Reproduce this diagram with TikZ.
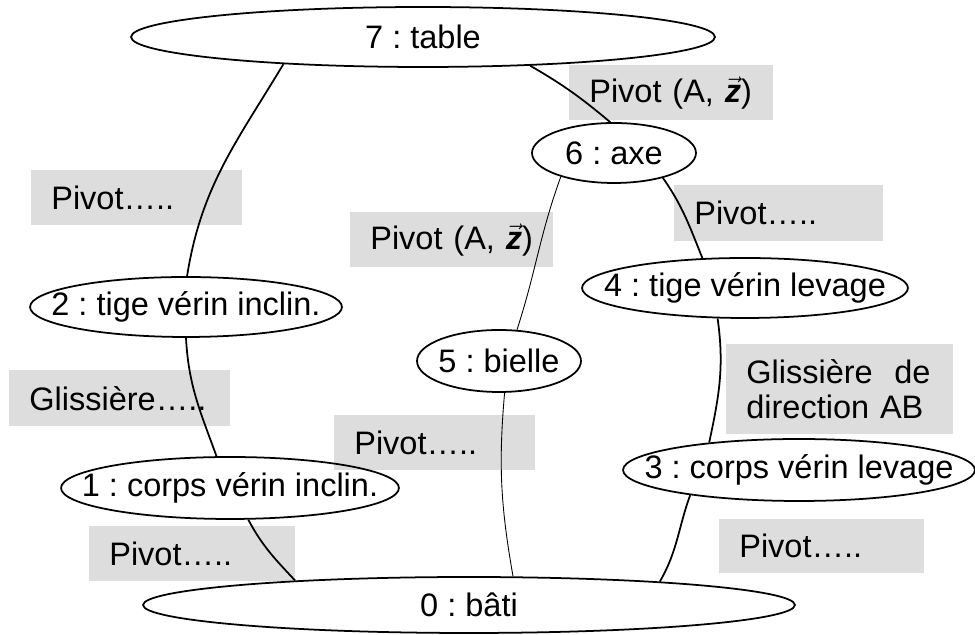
\documentclass[tikz,border=0pt]{standalone}
\usepackage{fontspec}
\setmainfont{Liberation Sans}
\usetikzlibrary{shapes.geometric}
\definecolor{fondliaison}{RGB}{221,221,221}
\newcommand{\vz}{$\vec{\mbox{\bfseries\itshape z}}$}
\frenchspacing

\begin{document}
\begin{tikzpicture}[x=0.02cm, y=0.02cm, font=\fontsize{18.5}{20}\selectfont,
	classe/.style={draw, ellipse, line width=1pt, inner sep=0pt},
	liaison/.style={fill=fondliaison, anchor=north west, align=left, inner xsep=0.4cm, inner ysep=0pt},
	lien/.style={line width=1pt},
	lienfin/.style={line width=0.5pt}]
	\useasboundingbox (0,0) rectangle (975,635);
	\node [liaison, text width=3.42cm, minimum height=1.1cm] (piv72) at (31,465) {Pivot…..};
	\node [liaison, text width=3.26cm, minimum height=1.1cm] (piv65) at (350,423) {Pivot (A, \vz)};
	\node [liaison, text width=3.28cm, minimum height=1.1cm] (piv76) at (569,570) {Pivot (A, \vz)};
	\node [liaison, text width=3.38cm, minimum height=1.12cm] (piv64) at (674,450) {Pivot…..};
	\node [liaison, text width=3.62cm, minimum height=1.12cm] (gli21) at (9,265) {Glissière…..};
	\node [liaison, text width=3.22cm, minimum height=1.1cm] (piv50) at (334,220) {Pivot…..};
	\node [liaison, text width=3.74cm, minimum height=1.8cm] (gli43) at (726,291) {Glissière~~de\\direction AB};
	\node [liaison, text width=3.30cm, minimum height=1.08cm] (piv30) at (719,116) {Pivot…..};
	\node [liaison, text width=3.32cm, minimum height=1.1cm] (piv10) at (89,109) {Pivot…..};
	\node [classe, minimum width=11.68cm, minimum height=1.2cm, label={center:7 : table}] (table) at (423,598) {};
	\node [classe, minimum width=3.28cm, minimum height=1.2cm, label={center:6 : axe}] (axe) at (614,482) {};
	\node [classe, minimum width=6.52cm, minimum height=1.2cm, label={center:4 : tige vérin levage}] (tige4) at (745,347) {};
	\node [classe, minimum width=6.24cm, minimum height=1.2cm, label={center:2 : tige vérin inclin.}] (tige2) at (186,328) {};
	\node [classe, minimum width=3.28cm, minimum height=1.24cm, label={center:5 : bielle}] (bielle) at (499,274) {};
	\node [classe, minimum width=6.76cm, minimum height=1.24cm, label={center:1 : corps vérin inclin.}] (corps1) at (230,147) {};
	\node [classe, minimum width=7.04cm, minimum height=1.24cm, label={center:3 : corps vérin levage}] (corps3) at (799,165) {};
	\node [classe, minimum width=13.04cm, minimum height=1.12cm, label={center:0 : bâti}] (bati) at (469,30) {};
	\draw [lien] (table.191) to[out=-121, in=81] (tige2.88);
	\draw [lien] (tige2.south) to[out=-87, in=110] (corps1.113);
	\draw [lien] (corps1.-60) to[out=-62, in=133] (bati.172.5);
	\draw [lien] (table.-15) to[out=-30, in=140] (axe.97);
	\draw [lien] (axe.-27) to[out=-55, in=112] (tige4.145);
	\draw [lienfin] (axe.204) to[out=-110, in=72] (bielle.60);
	\draw [lienfin] (bielle.-80) to[out=-95, in=100] (bati.33);
	\draw [lien] (tige4.-132) to[out=-82, in=78] (corps3.163);
	\draw [lien] (corps3.193) to[out=-110, in=60] (bati.7);
\end{tikzpicture}
\end{document}
